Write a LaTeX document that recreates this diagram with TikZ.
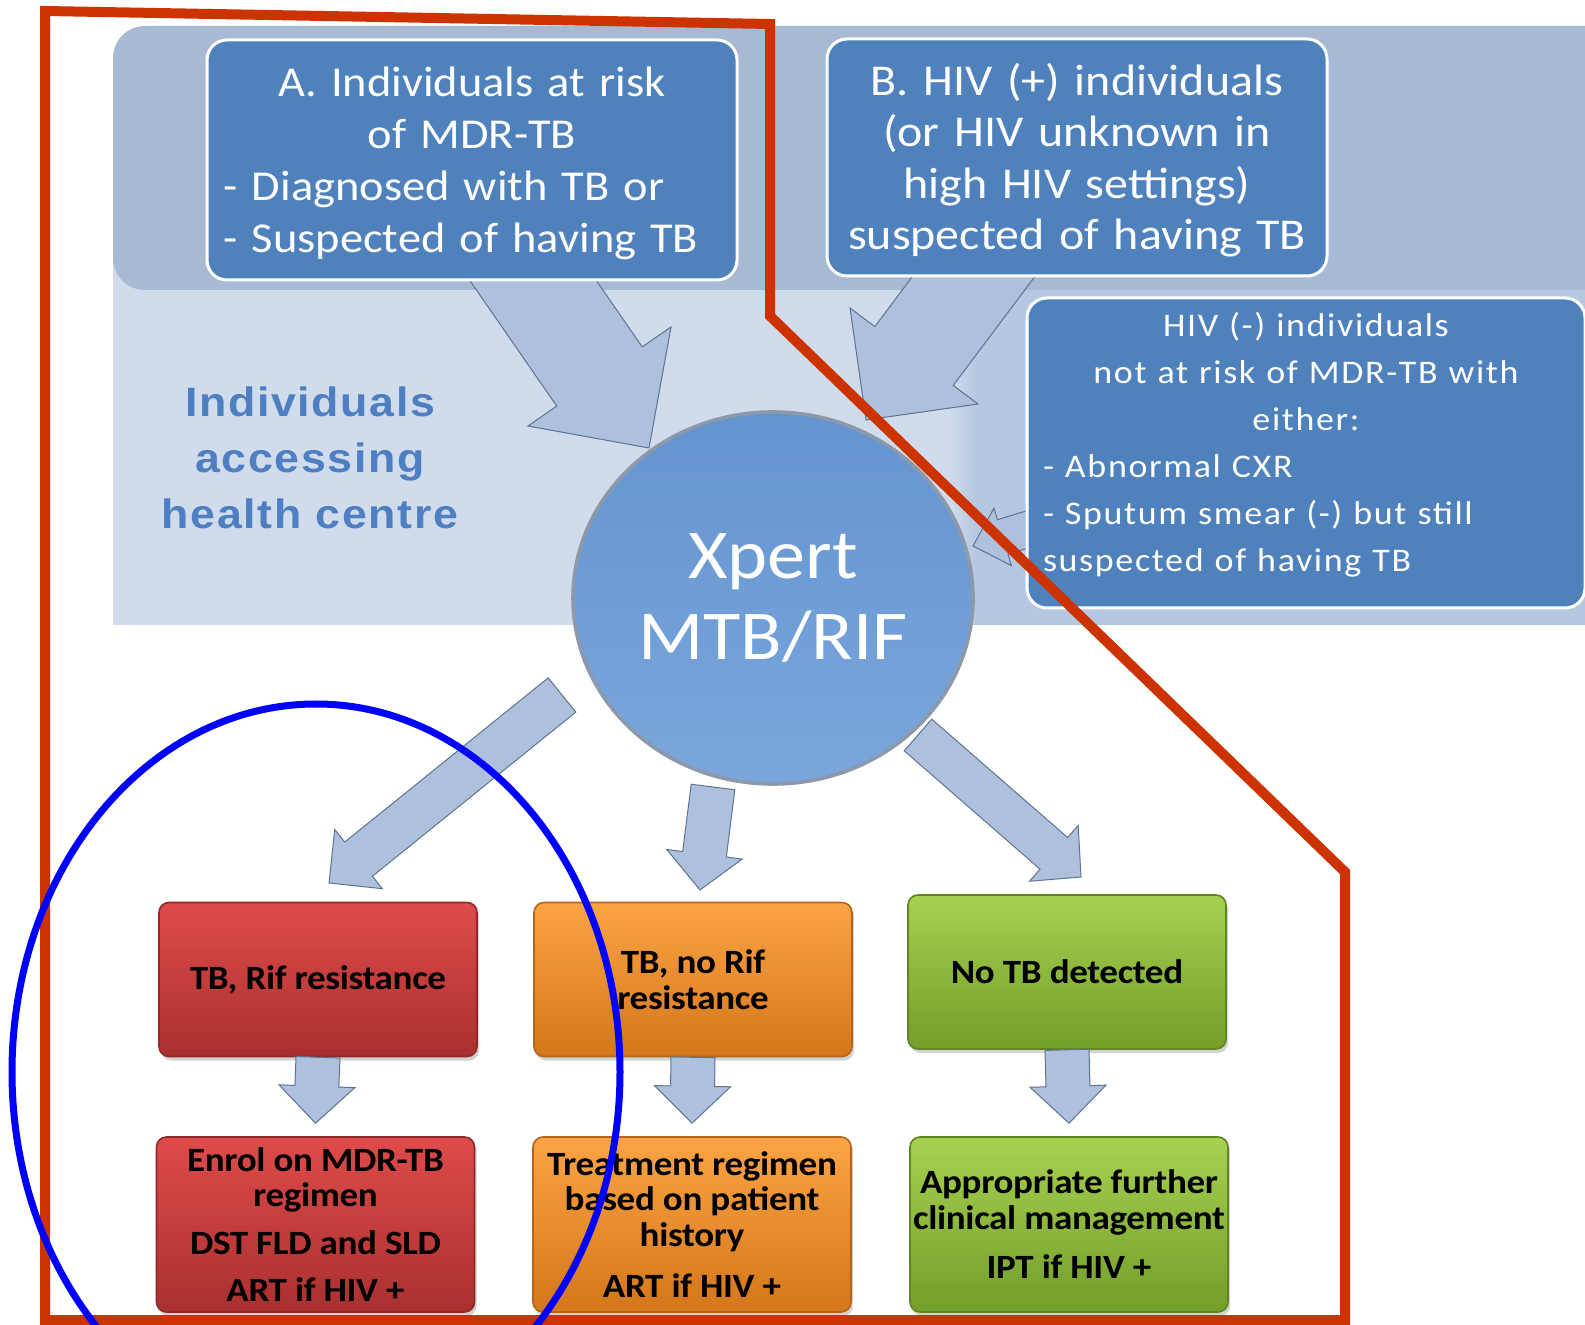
\documentclass[tikz,border=0pt]{standalone}
\usepackage{fontspec}
\usetikzlibrary{calc,shapes.geometric,shadows}
\newfontfamily\boxfont[FakeStretch=1.09]{Carlito}
\newfontfamily\sidefont[FakeStretch=1.09,LetterSpace=5]{Carlito}
\newfontfamily\labelfont[FakeStretch=1.09,LetterSpace=4]{Liberation Sans}
\newfontfamily\outfont[FakeStretch=1.09,LetterSpace=-1]{Carlito}

\definecolor{bandblue}{HTML}{A7B9D3}
\definecolor{lightblue}{HTML}{D0DCEC}
\definecolor{midblue}{HTML}{B6C8E0}
\definecolor{boxblue}{HTML}{4F81BD}
\definecolor{labelblue}{HTML}{4F7FC3}
\definecolor{arrowfill}{HTML}{ADC0DC}
\definecolor{arrowline}{HTML}{5D7494}
\definecolor{xperttop}{HTML}{6494D0}
\definecolor{xpertbot}{HTML}{7AA6DB}
\definecolor{xpertrim}{HTML}{8C99AA}
\definecolor{redtop}{HTML}{DE4B4A}
\definecolor{redmid}{HTML}{D23E3D}
\definecolor{redbot}{HTML}{A9302F}
\definecolor{redline}{HTML}{8E2A29}
\definecolor{orgtop}{HTML}{FBA445}
\definecolor{orgmid}{HTML}{F4901F}
\definecolor{orgbot}{HTML}{D4761A}
\definecolor{orgline}{HTML}{B5651A}
\definecolor{grntop}{HTML}{A6D150}
\definecolor{grnmid}{HTML}{93C13B}
\definecolor{grnbot}{HTML}{729E2A}
\definecolor{grnline}{HTML}{5F8623}
\definecolor{frame}{HTML}{CC3300}
\definecolor{ring}{HTML}{0000FF}

% block arrow: [style]{start}{tip}{shaft half width}{head half width}{head length}
\newcommand\blockarrow[6][]{%
  \coordinate (hb) at ($(#3)!#6!(#2)$);
  \draw[blockarrow,#1] ($(#2)!#4!90:(#3)$) -- ($(hb)!#4!-90:(#2)$)
    -- ($(hb)!#5!-90:(#2)$) -- (#3) -- ($(hb)!#5!90:(#2)$)
    -- ($(hb)!#4!90:(#2)$) -- ($(#2)!#4!-90:(#3)$) -- cycle;}

\tikzset{
  bluebox/.style={rectangle, rounded corners=10pt, fill=boxblue, draw=white,
    line width=1.5pt, text=white, inner sep=0pt},
  blockarrow/.style={fill=arrowfill, draw=arrowline, line width=0.5pt, line join=miter},
  xpert/.style={ellipse, minimum width=200pt, minimum height=186pt, inner sep=0pt,
    top color=xperttop, bottom color=xpertbot, draw=xpertrim, line width=1.8pt,
    text=white, align=center, font=\boxfont\fontsize{35}{40.5}\selectfont},
  outbox/.style={rectangle, rounded corners=5pt, minimum width=159pt, inner sep=0pt,
    align=center, line width=0.8pt, font=\outfont\bfseries\fontsize{17}{17.75}\selectfont,
    drop shadow={shadow xshift=1pt, shadow yshift=-2pt, opacity=0.35}},
  redbox/.style={outbox, top color=redtop, middle color=redmid, bottom color=redbot, draw=redline},
  orangebox/.style={outbox, top color=orgtop, middle color=orgmid, bottom color=orgbot, draw=orgline},
  greenbox/.style={outbox, top color=grntop, middle color=grnmid, bottom color=grnbot, draw=grnline}
}

\begin{document}
\begin{tikzpicture}[x=0.5pt,y=-0.5pt]
\useasboundingbox (0,0) rectangle (1585,1325);
\fill[white] (0,0) rectangle (1585,1325);
% background panels
\fill[lightblue] (113,150) rectangle (1585,625);
\shade[left color=lightblue,right color=midblue] (950,288) rectangle (975,625);
\fill[midblue] (975,288) rectangle (1585,625);
\fill[bandblue,rounded corners=16pt] (113,26) rectangle (1620,290);

% arrows into the test
\coordinate (aS) at (505,240); \coordinate (aT) at (649,448);
\coordinate (bS) at (1004,236); \coordinate (bT) at (866,420);
\coordinate (cS) at (1045,524); \coordinate (cT) at (973,546);
\blockarrow{aS}{aT}{26pt}{43.5pt}{43.5pt}
\blockarrow{bS}{bT}{24.5pt}{40pt}{40pt}
\blockarrow{cS}{cT}{9pt}{15pt}{15.5pt}

% groups of individuals
\node[bluebox, minimum width=265pt, minimum height=120pt, text width=248.5pt, align=left,
  text height=18pt, font=\boxfont\fontsize{21.3}{26}\selectfont] (riskA) at (472,160)
  {\makebox[\hsize]{A. Individuals at risk}\\ \makebox[\hsize]{of MDR-TB}\\
   - Diagnosed with TB or\\ - Suspected of having TB};
\node[bluebox, minimum width=250pt, minimum height=118.5pt, text width=245pt, align=center,
  text height=19pt, font=\boxfont\fontsize{22}{25.75}\selectfont] (hivB) at (1077,157.5)
  {B. HIV (+) individuals\\(or HIV unknown in\\high HIV settings)\\suspected of having TB};
\node[bluebox, minimum width=279pt, minimum height=155pt, text width=263pt, align=left,
  text depth=129pt, font=\sidefont\fontsize{16.5}{23.5}\selectfont] (hivneg) at (1306,453)
  {\makebox[\hsize]{HIV (-) individuals}\\ \makebox[\hsize]{not at risk of MDR-TB with}\\
   \makebox[\hsize]{either:}\\ - Abnormal CXR\\ - Sputum smear (-) but still\\
   suspected of having TB};
\node[font=\labelfont\bfseries\fontsize{20.5}{28}\selectfont, text=labelblue, align=center]
  (access) at (310,458) {Individuals\\accessing\\health centre};

% the test
\coordinate (rS) at (562,695); \coordinate (rT) at (329,883);
\coordinate (oS) at (713,787); \coordinate (oT) at (700,890);
\coordinate (gS) at (918,735); \coordinate (gT) at (1081,877);
\blockarrow{rS}{rT}{11pt}{19pt}{19pt}
\blockarrow{oS}{oT}{11pt}{19pt}{18pt}
\blockarrow{gS}{gT}{10.5pt}{18.5pt}{18pt}
\node[xpert] (xpert) at (773,598) {Xpert\\MTB/RIF};

% results
\node[redbox, minimum height=77pt] (rifres) at (318,979.5) {TB, Rif resistance};
\node[orangebox, minimum height=77pt] (norif) at (693,979.5) {TB, no Rif\\resistance};
\node[greenbox, minimum height=77pt] (notb) at (1067,972) {No TB detected};
\node[redbox, minimum height=87.5pt] (mdrreg) at (315.5,1224.5)
  {Enrol on MDR-TB\\regimen\\[6pt]DST FLD and SLD\\[6pt]ART if HIV +};
\node[orangebox, minimum height=87.5pt] (stdreg) at (692,1224.5)
  {Treatment regimen\\based on patient\\history\\[8pt]ART if HIV +};
\node[greenbox, minimum height=87.5pt] (further) at (1069,1224.5)
  {Appropriate further\\clinical management\\[7pt]IPT if HIV +};
\foreach \u/\v in {rifres/mdrreg, norif/stdreg, notb/further}{
  \coordinate (\v tip) at ($(\v.north)+(0,-13)$);
  \blockarrow{\u.south}{\v tip}{11pt}{19pt}{18.5pt}
}

% markings
\draw[frame, line width=5pt, line join=miter] (45,11) -- (770,24) -- (770,316)
  -- (1345,872) -- (1345,1320) -- (45,1320) -- cycle;
\draw[ring, line width=3.5pt] (316,1072) ellipse [x radius=152pt, y radius=184pt];
\end{tikzpicture}
\end{document}
